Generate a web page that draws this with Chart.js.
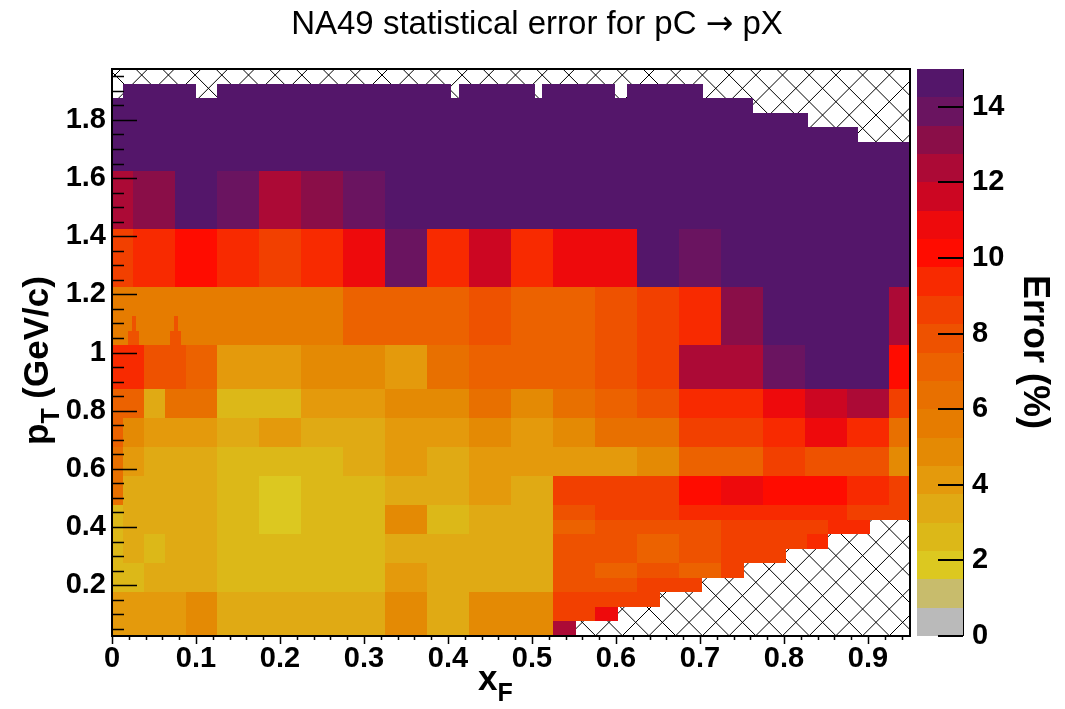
<!DOCTYPE html>
<html>
<head>
<meta charset="utf-8">
<script src="https://cdn.jsdelivr.net/npm/chart.js@4.4.1/dist/chart.umd.min.js"></script>
<style>
  body { margin: 0; background: #fff; }
  #wrap { width: 1065px; height: 709px; }
</style>
</head>
<body>
<div id="wrap"><canvas id="graph" width="1065" height="709"></canvas></div>
<script>
// z axis: 20 colour levels between 0 and 15 %
var zMin = 0, zMax = 15;
var palette = [
  "#bababa", "#c8bc6c", "#dcc820", "#dcb818", "#e0aa14",
  "#e49a0c", "#e48a04", "#e67c00", "#e87000", "#ec6200",
  "#ee5200", "#f24000", "#f82a00", "#ff0c00", "#ee0a0c",
  "#cc0622", "#ac0a36", "#8a0e48", "#6a1460", "#54166a"
];
var zTicks = [0, 2, 4, 6, 8, 10, 12, 14];

var xTicks = [0, 0.1, 0.2, 0.3, 0.4, 0.5, 0.6, 0.7, 0.8, 0.9];
var xTickLabels = ["0", "0.1", "0.2", "0.3", "0.4", "0.5", "0.6", "0.7", "0.8", "0.9"];
var yTicks = [0.2, 0.4, 0.6, 0.8, 1.0, 1.2, 1.4, 1.6, 1.8];
var yTickLabels = ["0.2", "0.4", "0.6", "0.8", "1", "1.2", "1.4", "1.6", "1.8"];

// one strip per entry: pT range, xF bin edges, statistical error (%) per bin, null = no data
var rowPt = [
  [1.875, 1.925], [1.825, 1.875], [1.775, 1.825], [1.725, 1.775], [1.625, 1.725],
  [1.425, 1.625], [1.225, 1.425], [1.025, 1.225],
  [1.025, 1.075], [1.075, 1.125],
  [0.875, 1.025], [0.775, 0.875], [0.675, 0.775], [0.575, 0.675], [0.475, 0.575],
  [0.375, 0.475],
  [0.425, 0.475], [0.375, 0.425], [0.325, 0.375], [0.275, 0.325], [0.225, 0.275],
  [0.175, 0.225], [0.125, 0.175], [0.075, 0.125], [0.025, 0.075],
  [0.275, 0.375], [0.175, 0.275], [0.025, 0.175]
];
var rowXF = [
  [0, 0.0125, 0.1, 0.125, 0.4038, 0.4133, 0.504, 0.5123, 0.5984, 0.6127, 0.703, 0.95],
  [0, 0.763, 0.95],
  [0, 0.828, 0.95],
  [0, 0.888, 0.95],
  [0, 0.95],
  [0, 0.025, 0.075, 0.125, 0.175, 0.225, 0.275, 0.325, 0.95],
  [0, 0.025, 0.075, 0.125, 0.175, 0.225, 0.275, 0.325, 0.375, 0.425, 0.475, 0.525, 0.625, 0.675, 0.725, 0.95],
  [0, 0.275, 0.425, 0.475, 0.575, 0.625, 0.675, 0.725, 0.775, 0.925, 0.95],
  [0.0185, 0.0325, 0.0685, 0.0825],
  [0.0235, 0.028, 0.0735, 0.078],
  [0, 0.0375, 0.0875, 0.125, 0.225, 0.325, 0.375, 0.425, 0.575, 0.625, 0.675, 0.775, 0.825, 0.925, 0.95],
  [0, 0.0375, 0.0625, 0.125, 0.225, 0.325, 0.425, 0.475, 0.525, 0.575, 0.625, 0.675, 0.775, 0.825, 0.875, 0.925, 0.95],
  [0, 0.0125, 0.0375, 0.125, 0.175, 0.225, 0.325, 0.425, 0.475, 0.525, 0.575, 0.675, 0.775, 0.825, 0.875, 0.925, 0.95],
  [0, 0.0125, 0.0375, 0.125, 0.275, 0.325, 0.375, 0.425, 0.625, 0.675, 0.775, 0.825, 0.925, 0.95],
  [0, 0.0125, 0.125, 0.175, 0.225, 0.325, 0.425, 0.475, 0.525, 0.675, 0.725, 0.775, 0.875, 0.925, 0.95],
  [0, 0.0125, 0.125, 0.175, 0.225, 0.325, 0.375, 0.425, 0.525],
  [0.525, 0.575, 0.675, 0.775, 0.875, 0.95],
  [0.525, 0.575, 0.725, 0.8525, 0.9025],
  [0.525, 0.625, 0.675, 0.725, 0.8275, 0.8525],
  [0.525, 0.625, 0.675, 0.725, 0.8025],
  [0.525, 0.575, 0.625, 0.675, 0.725, 0.7525],
  [0.525, 0.625, 0.7025],
  [0.525, 0.6525],
  [0.525, 0.575, 0.6025],
  [0.525, 0.5525],
  [0, 0.0125, 0.0375, 0.0625, 0.125, 0.325, 0.525],
  [0, 0.0375, 0.125, 0.325, 0.375, 0.525],
  [0, 0.0875, 0.125, 0.325, 0.375, 0.425, 0.525]
];
var rowErr = [
  [null, 14.6, null, 14.6, null, 14.6, null, 14.6, null, 14.6, null],
  [14.6, null],
  [14.6, null],
  [14.6, null],
  [14.6],
  [12.4, 13.1, 14.6, 13.9, 12.4, 13.1, 13.9, 14.6],
  [8.6, 9.4, 10.1, 9.4, 8.6, 9.4, 10.9, 13.9, 9.4, 11.6, 9.4, 10.9, 14.6, 13.9, 14.6],
  [5.6, 7.1, 7.9, 7.1, 7.9, 8.6, 9.4, 13.1, 14.6, 12.4],
  [7.9, null, 7.9],
  [7.9, null, 7.9],
  [9.4, 7.9, 7.1, 4.1, 4.9, 4.1, 6.4, 7.1, 7.9, 8.6, 12.4, 13.9, 14.6, 10.1],
  [7.1, 3.4, 6.4, 2.6, 4.1, 4.9, 6.4, 4.9, 6.4, 7.1, 7.9, 9.4, 10.9, 11.6, 12.4, 8.6],
  [7.1, 4.9, 4.1, 3.4, 4.1, 3.4, 4.1, 4.9, 4.1, 4.9, 6.4, 8.6, 9.4, 10.9, 9.4, 6.4],
  [6.4, 4.1, 3.4, 2.6, 3.4, 4.1, 3.4, 4.1, 4.9, 7.1, 8.6, 7.9, 4.9],
  [6.4, 3.4, 2.6, 1.9, 2.6, 3.4, 4.1, 3.4, 8.6, 10.1, 10.9, 10.1, 9.4, 8.6],
  [2.6, 3.4, 2.6, 1.9, 2.6, 4.9, 2.6, 3.4],
  [7.9, 8.6, 9.4, 9.4, 8.6],
  [7.1, 7.9, 8.6, 9.4],
  [7.9, 7.1, 7.9, 8.6, 9.4],
  [7.9, 7.1, 7.9, 8.6],
  [7.9, 7.1, 7.9, 7.1, 8.6],
  [7.9, 8.6],
  [8.6],
  [8.6, 10.9],
  [12.4],
  [2.6, 3.4, 2.6, 3.4, 2.6, 3.4],
  [2.6, 3.4, 2.6, 4.1, 3.4],
  [4.1, 4.9, 3.4, 4.9, 3.4, 4.9]
];

var FONT = "'Liberation Sans', Arial, sans-serif";

function errColor(v) {
  var k = Math.floor((v - zMin) / (zMax - zMin) * palette.length);
  if (k < 0) k = 0;
  if (k > palette.length - 1) k = palette.length - 1;
  return palette[k];
}

// text with a lowered index, e.g. x_F
function drawSub(ctx, main, sub, rest, x, y, size) {
  ctx.font = "bold " + size + "px " + FONT;
  ctx.fillText(main, x, y);
  var w = ctx.measureText(main).width;
  ctx.font = "bold " + Math.round(size * 0.7) + "px " + FONT;
  ctx.fillText(sub, x + w, y + size * 0.3);
  var w2 = ctx.measureText(sub).width;
  if (rest) {
    ctx.font = "bold " + size + "px " + FONT;
    ctx.fillText(rest, x + w + w2, y);
  }
}

// title in three pieces so the arrow can come from a font with a wide glyph
function drawTitle(ctx, cx, y) {
  var parts = [
    ["NA49 statistical error for pC ", "33px " + FONT],
    ["\u2192", "33px 'DejaVu Sans', sans-serif"],
    [" pX", "33px " + FONT]
  ];
  var total = 0;
  parts.forEach(function (p) { ctx.font = p[1]; total += ctx.measureText(p[0]).width; });
  var x = cx - total / 2;
  ctx.textAlign = "left";
  parts.forEach(function (p) {
    ctx.font = p[1];
    ctx.fillText(p[0], x, y);
    x += ctx.measureText(p[0]).width;
  });
}

var heatmap = {
  id: "heatmap",
  beforeDatasetsDraw: function (chart) {
    var ctx = chart.ctx, a = chart.chartArea;
    var sx = chart.scales.x, sy = chart.scales.y;
    ctx.save();
    ctx.beginPath();
    ctx.rect(a.left, a.top, a.right - a.left, a.bottom - a.top);
    ctx.clip();
    ctx.fillStyle = "#fff";
    ctx.fillRect(a.left, a.top, a.right - a.left, a.bottom - a.top);

    // cross hatching where there is no measurement
    var d = 26.7, c1 = 13.3, c2 = 3.1;
    ctx.strokeStyle = "#000";
    ctx.lineWidth = 1;
    ctx.beginPath();
    for (var c = c1 + Math.floor((a.left - a.bottom - c1) / d) * d; c < a.right - a.top; c += d) {
      ctx.moveTo(a.left, a.left - c);
      ctx.lineTo(a.right, a.right - c);
    }
    for (c = c2 + Math.floor((a.left + a.top - c2) / d) * d; c < a.right + a.bottom + d; c += d) {
      ctx.moveTo(a.left, c - a.left);
      ctx.lineTo(a.right, c - a.right);
    }
    ctx.stroke();

    for (var r = 0; r < rowPt.length; r++) {
      var yTop = Math.round(sy.getPixelForValue(rowPt[r][1]));
      var yBot = Math.round(sy.getPixelForValue(rowPt[r][0]));
      var edges = rowXF[r], errs = rowErr[r];
      for (var i = 0; i < errs.length; i++) {
        if (errs[i] === null) continue;
        var x0 = Math.round(sx.getPixelForValue(edges[i]));
        var x1 = Math.round(sx.getPixelForValue(edges[i + 1]));
        ctx.fillStyle = errColor(errs[i]);
        ctx.fillRect(x0, yTop, x1 - x0, yBot - yTop);
      }
    }
    ctx.restore();
  },
  afterDraw: function (chart) {
    var ctx = chart.ctx, a = chart.chartArea;
    var sx = chart.scales.x, sy = chart.scales.y, sz = chart.scales.z;
    ctx.save();
    ctx.strokeStyle = "#000";
    ctx.fillStyle = "#000";

    // frame
    ctx.lineWidth = 2;
    ctx.strokeRect(a.left, a.top, a.right - a.left, a.bottom - a.top);

    // y ticks (inside), major every 0.2, minor every 0.05
    ctx.lineWidth = 1.5;
    ctx.beginPath();
    for (var k = 1; k <= 39; k++) {
      var v = k * 0.05;
      var py = Math.round(sy.getPixelForValue(v)) + 0.5;
      if (py < a.top || py > a.bottom) continue;
      var len = (k % 4 === 0) ? 25 : 12;
      ctx.moveTo(a.left, py);
      ctx.lineTo(a.left + len, py);
    }
    ctx.stroke();

    // x ticks (below the axis), major every 0.1, minor every 0.02
    ctx.beginPath();
    for (k = 0; k <= 47; k++) {
      var px = Math.round(sx.getPixelForValue(k * 0.02)) + 0.5;
      var l2 = (k % 5 === 0) ? 8 : 4;
      ctx.moveTo(px, a.bottom);
      ctx.lineTo(px, a.bottom + l2);
    }
    ctx.stroke();

    // colour scale
    var bx0 = a.right + 7, bx1 = a.right + 53;
    for (var j = 0; j < palette.length; j++) {
      var lo = zMin + j * (zMax - zMin) / palette.length;
      var hi = zMin + (j + 1) * (zMax - zMin) / palette.length;
      var t = Math.round(sz.getPixelForValue(hi)), b = Math.round(sz.getPixelForValue(lo));
      ctx.fillStyle = palette[j];
      ctx.fillRect(bx0, t, bx1 - bx0, b - t);
    }
    ctx.lineWidth = 1;
    ctx.beginPath();
    ctx.moveTo(bx1 + 0.5, a.top);
    ctx.lineTo(bx1 + 0.5, a.bottom);
    ctx.stroke();
    ctx.lineWidth = 2;
    ctx.beginPath();
    zTicks.forEach(function (zv) {
      var zy = Math.round(sz.getPixelForValue(zv));
      ctx.moveTo(bx1 - 25, zy);
      ctx.lineTo(bx1, zy);
    });
    ctx.stroke();

    // titles
    ctx.fillStyle = "#000";
    ctx.textBaseline = "alphabetic";
    drawTitle(ctx, 537, 34);

    ctx.textAlign = "left";
    drawSub(ctx, "x", "F", "", 478, 690, 35);

    ctx.save();
    ctx.translate(48, 445);
    ctx.rotate(-Math.PI / 2);
    drawSub(ctx, "p", "T", " (GeV/c)", 0, 0, 35);
    ctx.restore();

    ctx.save();
    ctx.translate(1024, 275);
    ctx.rotate(Math.PI / 2);
    ctx.font = "bold 36px " + FONT;
    ctx.fillText("Error (%)", 0, 0);
    ctx.restore();

    ctx.restore();
  }
};

var tickFont = { family: FONT, size: 29, weight: "bold" };

var chart = new Chart(document.getElementById("graph"), {
  type: "scatter",
  data: { datasets: [] },
  options: {
    responsive: false,
    animation: false,
    layout: { autoPadding: false, padding: { top: 69, left: 0, right: 0, bottom: 0 } },
    plugins: { legend: { display: false }, tooltip: { enabled: false } },
    scales: {
      x: {
        type: "linear", min: 0, max: 0.95,
        grid: { display: false, drawTicks: false }, border: { display: false },
        afterFit: function (s) { s.height = 73; },
        afterBuildTicks: function (s) { s.ticks = xTicks.map(function (v) { return { value: v }; }); },
        ticks: {
          padding: 6, maxRotation: 0, autoSkip: false, color: "#000", font: tickFont,
          callback: function (v, i) { return xTickLabels[i]; }
        }
      },
      y: {
        type: "linear", min: 0.025, max: 1.975,
        grid: { display: false, drawTicks: false }, border: { display: false },
        afterFit: function (s) { s.width = 112; },
        afterBuildTicks: function (s) { s.ticks = yTicks.map(function (v) { return { value: v }; }); },
        ticks: {
          padding: 6, autoSkip: false, color: "#000", font: tickFont,
          callback: function (v, i) { return yTickLabels[i]; }
        }
      },
      z: {
        type: "linear", axis: "y", position: "right", min: zMin, max: zMax,
        // the long transparent tick marks push the labels past the colour boxes
        grid: { display: true, drawOnChartArea: false, drawTicks: true, tickLength: 56, color: "rgba(0,0,0,0)" },
        border: { display: false },
        afterFit: function (s) { s.width = 155; },
        afterBuildTicks: function (s) { s.ticks = zTicks.map(function (v) { return { value: v }; }); },
        ticks: {
          padding: 6, autoSkip: false, color: "#000", font: tickFont,
          callback: function (v) { return String(v); }
        }
      }
    }
  },
  plugins: [heatmap]
});
</script>
</body>
</html>
